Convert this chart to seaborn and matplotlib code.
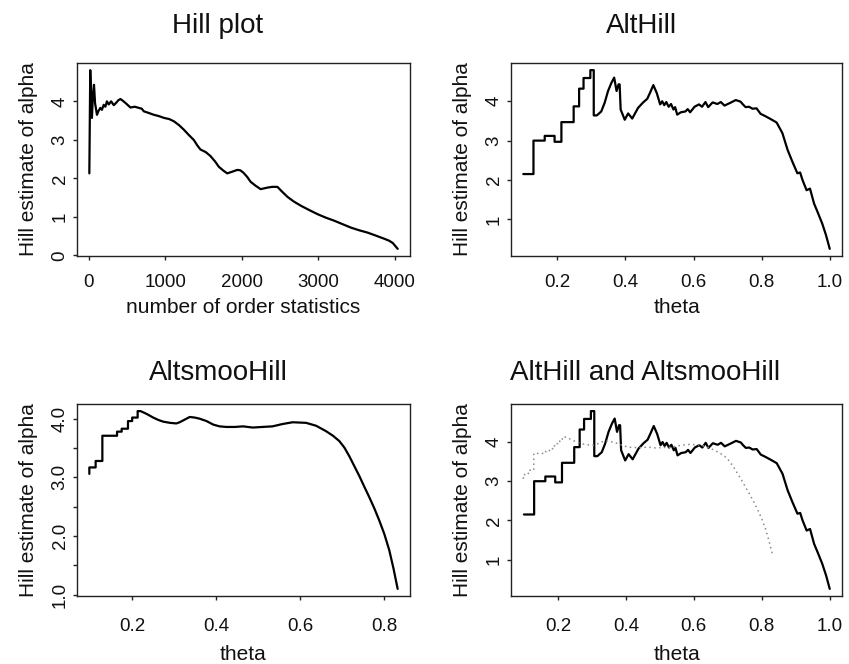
import numpy as np
import pandas as pd
import matplotlib
matplotlib.use("Agg")
import matplotlib.pyplot as plt
import seaborn as sns

# ---- data ----
hill_k = [5, 17, 30, 39, 53, 66, 80, 105, 125, 149, 170, 193, 215, 235, 259, 290,
          325, 360, 385, 412, 440, 477, 510, 543, 600, 653, 690, 719, 780, 850,
          910, 982, 1050, 1113, 1180, 1244, 1310, 1371, 1420, 1459, 1530, 1590,
          1650, 1700, 1760, 1810, 1870, 1941, 1980, 2020, 2070, 2116, 2180, 2247,
          2335, 2400, 2466, 2530, 2598, 2680, 2773, 2880, 2992, 3100, 3211, 3320,
          3430, 3540, 3649, 3760, 3868, 3930, 3977, 4040]
hill_alpha = [2.13, 4.81, 3.90, 3.57, 4.22, 4.43, 3.95, 3.65, 3.75, 3.83, 3.78,
              3.91, 3.86, 4.00, 3.92, 4.00, 3.90, 3.97, 4.03, 4.06, 4.02, 3.96,
              3.90, 3.84, 3.86, 3.83, 3.81, 3.74, 3.70, 3.65, 3.62, 3.57, 3.54,
              3.48, 3.38, 3.26, 3.12, 3.00, 2.85, 2.75, 2.68, 2.58, 2.44, 2.30,
              2.20, 2.13, 2.17, 2.22, 2.21, 2.15, 2.04, 1.91, 1.81, 1.72, 1.76,
              1.78, 1.78, 1.65, 1.52, 1.40, 1.29, 1.18, 1.07, 0.98, 0.90, 0.81,
              0.72, 0.65, 0.59, 0.51, 0.43, 0.38, 0.32, 0.17]

alt_theta = [0.100, 0.130, 0.130, 0.163, 0.163, 0.192, 0.192, 0.212, 0.212, 0.248,
             0.248, 0.264, 0.264, 0.277, 0.277, 0.297, 0.297, 0.307, 0.307, 0.316,
             0.329, 0.339, 0.349, 0.359, 0.367, 0.374, 0.380, 0.383, 0.386, 0.398,
             0.408, 0.420, 0.437, 0.452, 0.464, 0.472, 0.482, 0.492, 0.502, 0.508,
             0.514, 0.520, 0.527, 0.534, 0.541, 0.546, 0.552, 0.563, 0.576, 0.583,
             0.590, 0.603, 0.616, 0.625, 0.635, 0.643, 0.656, 0.670, 0.680, 0.691,
             0.708, 0.724, 0.738, 0.745, 0.753, 0.763, 0.773, 0.785, 0.797, 0.811,
             0.826, 0.844, 0.861, 0.876, 0.890, 0.905, 0.913, 0.920, 0.932, 0.942,
             0.954, 0.966, 0.978, 0.989, 1.000]
alt_alpha = [2.15, 2.15, 3.00, 3.00, 3.12, 3.12, 2.97, 2.97, 3.47, 3.47,
             3.87, 3.87, 4.32, 4.32, 4.59, 4.59, 4.79, 4.79, 3.64, 3.64,
             3.74, 3.96, 4.26, 4.47, 4.60, 4.26, 4.43, 4.43, 3.79, 3.53,
             3.69, 3.56, 3.83, 3.97, 4.06, 4.21, 4.41, 4.21, 3.92, 4.00,
             3.90, 3.98, 3.86, 3.93, 3.79, 3.85, 3.66, 3.72, 3.74, 3.80,
             3.72, 3.86, 3.92, 3.86, 3.98, 3.85, 3.97, 3.93, 3.98, 3.89,
             3.96, 4.03, 3.99, 3.92, 3.85, 3.86, 3.81, 3.82, 3.68, 3.62,
             3.55, 3.46, 3.19, 2.77, 2.47, 2.17, 2.19, 2.00, 1.74, 1.78,
             1.40, 1.15, 0.89, 0.60, 0.25]

smoo_theta = [0.098, 0.098, 0.113, 0.113, 0.129, 0.129, 0.164, 0.164, 0.175, 0.175,
              0.190, 0.190, 0.200, 0.200, 0.213, 0.213, 0.220, 0.235, 0.250, 0.262,
              0.274, 0.290, 0.305, 0.313, 0.321, 0.337, 0.349, 0.361, 0.377, 0.393,
              0.408, 0.424, 0.444, 0.464, 0.487, 0.510, 0.534, 0.558, 0.582, 0.614,
              0.638, 0.661, 0.678, 0.693, 0.705, 0.717, 0.729, 0.741, 0.752, 0.764,
              0.776, 0.788, 0.800, 0.812, 0.822, 0.832]
smoo_alpha = [3.06, 3.17, 3.17, 3.28, 3.28, 3.71, 3.71, 3.78, 3.78, 3.83,
              3.83, 3.96, 3.96, 4.02, 4.02, 4.13, 4.13, 4.08, 4.02, 3.98,
              3.95, 3.93, 3.92, 3.94, 3.97, 4.03, 4.02, 4.00, 3.96, 3.90,
              3.87, 3.86, 3.86, 3.87, 3.85, 3.86, 3.87, 3.91, 3.94, 3.93,
              3.88, 3.79, 3.71, 3.62, 3.51, 3.36, 3.19, 3.02, 2.85, 2.67,
              2.48, 2.27, 2.04, 1.76, 1.45, 1.10]

titles = ["Hill plot", "AltHill", "AltsmooHill", "AltHill and AltsmooHill"]
xlabels = ["number of order statistics", "theta", "theta", "theta"]
ylabel = "Hill estimate of alpha"
hill_xticks = [0, 1000, 2000, 3000, 4000]
hill_yticks = [0, 1, 2, 3, 4]
theta_ticks = [0.2, 0.4, 0.6, 0.8, 1.0]
alt_yticks = [1, 2, 3, 4]
smoo_yticks = [1.0, 1.5, 2.0, 2.5, 3.0, 3.5, 4.0]
smoo_ylabels = ["1.0", "", "2.0", "", "3.0", "", "4.0"]

# ---- style ----
sns.set_style("ticks")
plt.rcParams["font.family"] = ["Liberation Sans", "DejaVu Sans"]
plt.rcParams["axes.edgecolor"] = "#222222"
plt.rcParams["xtick.color"] = "#222222"
plt.rcParams["ytick.color"] = "#222222"
plt.rcParams["text.color"] = "#111111"
plt.rcParams["axes.labelcolor"] = "#111111"
plt.rcParams["xtick.labelcolor"] = "#111111"
plt.rcParams["ytick.labelcolor"] = "#111111"

fig = plt.figure(figsize=(8.49, 6.64), dpi=100)
W, H = 849, 664
def box(l, t, r, b):
    return [l / W, 1 - b / H, (r - l) / W, (b - t) / H]

axes = [fig.add_axes(box(77, 63, 410, 256)),
        fig.add_axes(box(511, 63, 842, 256)),
        fig.add_axes(box(77, 404, 410, 596)),
        fig.add_axes(box(511, 404, 842, 596))]
title_xy = [(218, 33), (642, 33), (218, 380), (645, 380)]
xpad = [10, 10, 13, 13]
xlabpad = [5, 5, 7, 7]

hill_df = pd.DataFrame({"k": hill_k, "alpha": hill_alpha})
alt_df = pd.DataFrame({"theta": alt_theta, "alpha": alt_alpha})
smoo_df = pd.DataFrame({"theta": smoo_theta, "alpha": smoo_alpha})

kw = dict(estimator=None, sort=False, color="black", linewidth=1.6)
sns.lineplot(data=hill_df, x="k", y="alpha", ax=axes[0], **kw)
sns.lineplot(data=alt_df, x="theta", y="alpha", ax=axes[1], **kw)
sns.lineplot(data=smoo_df, x="theta", y="alpha", ax=axes[2], **kw)
sns.lineplot(data=alt_df, x="theta", y="alpha", ax=axes[3], **kw)
sns.lineplot(data=smoo_df, x="theta", y="alpha", ax=axes[3], estimator=None,
             sort=False, color="#8a8a8a", linewidth=1.1, linestyle=(0, (1, 2.2)))

for i, ax in enumerate(axes):
    ax.margins(x=0.04, y=0.04)
    for s in ax.spines.values():
        s.set_visible(True)
        s.set_linewidth(1.0)
    tx, ty = title_xy[i]
    fig.text(tx / W, 1 - ty / H, titles[i], fontsize=20, ha="center", va="baseline")
    ax.set_xlabel(xlabels[i], fontsize=15, labelpad=xlabpad[i])
    ax.set_ylabel(ylabel, fontsize=15, labelpad=10)
    ax.tick_params(axis="both", direction="out", length=3, width=1.0,
                   labelsize=13.5)
    ax.tick_params(axis="x", pad=xpad[i])
    ax.tick_params(axis="y", pad=3)

axes[0].set_xticks(hill_xticks)
axes[0].set_yticks(hill_yticks)
axes[1].set_xticks(theta_ticks)
axes[1].set_yticks(alt_yticks)
axes[2].set_xticks(theta_ticks[:4])
axes[2].set_yticks(smoo_yticks)
axes[2].set_yticklabels(smoo_ylabels)
axes[3].set_xticks(theta_ticks)
axes[3].set_yticks(alt_yticks)

for ax in axes:
    plt.setp(ax.get_yticklabels(), rotation=90, va="center")

fig.savefig("out.png", dpi=100)
